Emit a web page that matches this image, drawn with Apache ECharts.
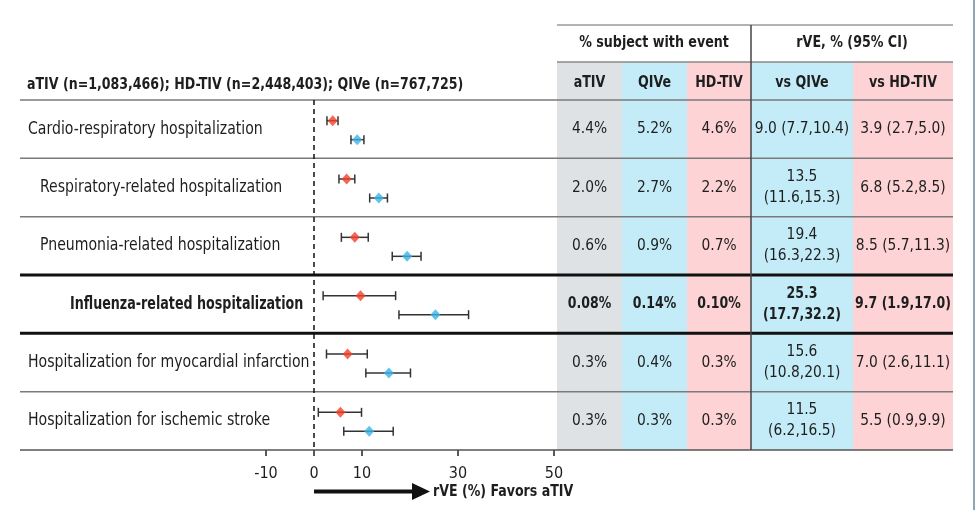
<!DOCTYPE html>
<html><head><meta charset="utf-8">
<script src="https://cdn.jsdelivr.net/npm/echarts@6/dist/echarts.min.js"></script>
<style>html,body{margin:0;padding:0;background:#fff}#c{width:977px;height:510px}</style>
</head><body><div id="c"></div>
<script>
// ---------- data ----------
const outcomes = ["Cardio-respiratory hospitalization", "Respiratory-related hospitalization", "Pneumonia-related hospitalization", "Influenza-related hospitalization", "Hospitalization for myocardial infarction", "Hospitalization for ischemic stroke"];
const cohortLabel = "aTIV (n=1,083,466); HD-TIV (n=2,448,403); QIVe (n=767,725)";
const pctATIV = ["4.4%", "2.0%", "0.6%", "0.08%", "0.3%", "0.3%"];
const pctQIVe = ["5.2%", "2.7%", "0.9%", "0.14%", "0.4%", "0.3%"];
const pctHDTIV = ["4.6%", "2.2%", "0.7%", "0.10%", "0.3%", "0.3%"];
const rveQIVe = [9.0, 13.5, 19.4, 25.3, 15.6, 11.5];
const rveQIVeLo = [7.7, 11.6, 16.3, 17.7, 10.8, 6.2];
const rveQIVeHi = [10.4, 15.3, 22.3, 32.2, 20.1, 16.5];
const rveHD = [3.9, 6.8, 8.5, 9.7, 7.0, 5.5];
const rveHDLo = [2.7, 5.2, 5.7, 1.9, 2.6, 0.9];
const rveHDHi = [5.0, 8.5, 11.3, 17.0, 11.1, 9.9];
const xTicks = [-10, 0, 10, 30, 50];
const xAxisTitle = "rVE (%) Favors aTIV";
const groupHeader = "% subject with event";
const rveHeader = "rVE, % (95% CI)";
const colHeaders = ["aTIV", "QIVe", "HD-TIV", "vs QIVe", "vs HD-TIV"];
const boldRows = [3];

// ---------- layout ----------
const W = 977, H = 510;
const TOP = 100, BOTTOM = 450, N = outcomes.length, ROWH = (BOTTOM - TOP) / N;
const colEdges = [557, 622, 687, 751, 853, 953];
const colFills = ['#dee2e4', '#c4ecf8', '#fdd3d5', '#c4ecf8', '#fdd3d5'];
const labelIndent = [28, 40, 40, 70, 28, 28];
const FONT = '"Liberation Sans Narrow","DejaVu Sans Condensed","Roboto Condensed",sans-serif';
const TXT = '#1e1e1e';
const RED = '#f4402b', BLUE = '#3ab4e6';
const OFF_RED = -8.5, OFF_BLUE = 10.5;

const fmtCI = (p, lo, hi) => {
  const s = p.toFixed(1) + ' (' + lo.toFixed(1) + ',' + hi.toFixed(1) + ')';
  return s.length > 14 ? s.replace(' ', '\n') : s;
};
const rowY = i => TOP + (i + 0.5) * ROWH;
const txt = (text, x, y, font, align, sx, extra) => ({
  type: 'text', z: 3, x: x, y: y, scaleX: sx,
  style: Object.assign({ text: text, x: 0, y: 0, fill: TXT, font: font, textAlign: align, textVerticalAlign: 'middle' }, extra || {})
});

const g = [];
for (let c = 0; c < 5; c++) {
  g.push({ type: 'rect', z: 0, shape: { x: colEdges[c], y: 62, width: colEdges[c + 1] - colEdges[c], height: BOTTOM - 62 }, style: { fill: colFills[c] } });
}
g.push({ type: 'line', z: 1, shape: { x1: colEdges[0], y1: 25, x2: colEdges[5], y2: 25 }, style: { stroke: '#9a9a9a', lineWidth: 1.5 } });
g.push({ type: 'line', z: 1, shape: { x1: colEdges[0], y1: 62, x2: colEdges[5], y2: 62 }, style: { stroke: '#8a8a8a', lineWidth: 1.5 } });
for (let i = 0; i <= N; i++) {
  const y = TOP + i * ROWH;
  const thick = (i === 3 || i === 4);
  g.push({ type: 'line', z: 1, shape: { x1: 20, y1: y, x2: colEdges[5], y2: y }, style: { stroke: thick ? '#111' : (i === N ? '#555' : '#7a7a7a'), lineWidth: thick ? 3 : 1.5 } });
}
g.push({ type: 'line', z: 1, shape: { x1: colEdges[3], y1: 25, x2: colEdges[3], y2: BOTTOM }, style: { stroke: '#444', lineWidth: 1.5 } });
g.push({ type: 'line', z: 1, shape: { x1: 974, y1: 0, x2: 974, y2: H }, style: { stroke: '#8fa6b4', lineWidth: 2 } });

g.push(txt(cohortLabel, 27, 85, 'bold 16px ' + FONT, 'left', 0.875));
g.push(txt(groupHeader, (colEdges[0] + colEdges[3]) / 2, 43, 'bold 16px ' + FONT, 'center', 0.88));
g.push(txt(rveHeader, (colEdges[3] + colEdges[5]) / 2, 43, 'bold 16px ' + FONT, 'center', 0.88));
colHeaders.forEach((h, c) => g.push(txt(h, (colEdges[c] + colEdges[c + 1]) / 2, 83, 'bold 16px ' + FONT, 'center', 0.88)));

outcomes.forEach((name, i) => {
  const bold = boldRows.includes(i);
  const y = rowY(i);
  g.push(txt(name, labelIndent[i], y, (bold ? 'bold ' : '') + '17px ' + FONT, 'left', bold ? 0.83 : 0.92));
  const cells = [pctATIV[i], pctQIVe[i], pctHDTIV[i], fmtCI(rveQIVe[i], rveQIVeLo[i], rveQIVeHi[i]), fmtCI(rveHD[i], rveHDLo[i], rveHDHi[i])];
  cells.forEach((t, c) => g.push(txt(t, (colEdges[c] + colEdges[c + 1]) / 2, y, (bold ? 'bold ' : '') + '16px ' + FONT, 'center', bold ? 0.87 : 0.96, { lineHeight: 21 })));
});

g.push({ type: 'line', z: 3, shape: { x1: 314, y1: 491.5, x2: 416, y2: 491.5 }, style: { stroke: '#111', lineWidth: 4 } });
g.push({ type: 'polygon', z: 3, shape: { points: [[412, 483], [430, 491.5], [412, 500]] }, style: { fill: '#111' } });
g.push(txt(xAxisTitle, 433, 492, 'bold 16px ' + FONT, 'left', 0.875));

function errorBar(lo, hi, off) {
  return {
    type: 'custom', z: 4, silent: true,
    data: outcomes.map((_, i) => [i, lo[i], hi[i]]),
    encode: { x: [1, 2], y: 0 },
    renderItem: function (params, api) {
      const a = api.coord([api.value(1), api.value(0)]);
      const b = api.coord([api.value(2), api.value(0)]);
      const y = a[1] + off, cap = 4.5;
      const st = { stroke: '#333', lineWidth: 1.5 };
      return { type: 'group', children: [
        { type: 'line', shape: { x1: a[0], y1: y, x2: b[0], y2: y }, style: st },
        { type: 'line', shape: { x1: a[0], y1: y - cap, x2: a[0], y2: y + cap }, style: st },
        { type: 'line', shape: { x1: b[0], y1: y - cap, x2: b[0], y2: y + cap }, style: st }
      ] };
    }
  };
}

const chart = echarts.init(document.getElementById('c'), null, { renderer: 'canvas' });
chart.setOption({
  animation: false,
  backgroundColor: '#fff',
  grid: { left: 266, right: W - 554, top: TOP, height: BOTTOM - TOP, containLabel: false },
  xAxis: {
    type: 'value', min: -10, max: 50, interval: 10,
    axisLine: { show: false },
    splitLine: { show: false },
    axisTick: { show: true, customValues: xTicks, length: 6, lineStyle: { color: '#222', width: 1.5 } },
    axisLabel: { customValues: xTicks, color: TXT, fontSize: 16, fontFamily: FONT, margin: 16 }
  },
  yAxis: {
    type: 'category', data: outcomes, inverse: true,
    axisLine: { show: false }, axisTick: { show: false }, axisLabel: { show: false }, splitLine: { show: false }
  },
  graphic: { elements: g },
  series: [
    errorBar(rveHDLo, rveHDHi, OFF_RED),
    errorBar(rveQIVeLo, rveQIVeHi, OFF_BLUE),
    {
      type: 'scatter', z: 5, symbol: 'diamond', symbolSize: [10, 11], symbolOffset: [0, OFF_RED],
      itemStyle: { color: RED },
      data: rveHD.map((v, i) => [v, i]),
      markLine: {
        silent: true, symbol: 'none', label: { show: false },
        lineStyle: { color: '#111', type: [5, 4], width: 1.5 },
        data: [{ xAxis: 0 }]
      }
    },
    {
      type: 'scatter', z: 5, symbol: 'diamond', symbolSize: [10, 11], symbolOffset: [0, OFF_BLUE],
      itemStyle: { color: BLUE },
      data: rveQIVe.map((v, i) => [v, i])
    }
  ]
});
</script></body></html>
